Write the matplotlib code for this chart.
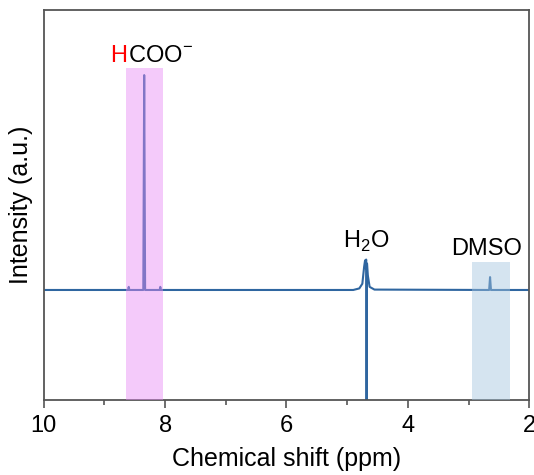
import matplotlib.pyplot as plt
from matplotlib.patches import Rectangle

plt.rcParams['font.family'] = 'Liberation Sans'
plt.rcParams['mathtext.fontset'] = 'custom'
plt.rcParams['mathtext.rm'] = 'Liberation Sans'

# spectrum (ppm, relative intensity)
ppm = [10.0, 8.61, 8.60, 8.59, 8.36, 8.345, 8.33, 8.09, 8.08, 8.07,
       4.90, 4.80, 4.75, 4.72, 4.705, 4.695, 4.687, 4.68, 4.673, 4.66,
       4.63, 4.55, 2.66, 2.645, 2.63, 2.0]
intensity = [0.282, 0.282, 0.29, 0.282, 0.282, 0.833, 0.282, 0.282, 0.29, 0.282,
             0.282, 0.286, 0.298, 0.342, 0.358, 0.338, 0.36, -0.2, 0.35, 0.32,
             0.29, 0.283, 0.282, 0.315, 0.282, 0.282]

# highlighted regions: (ppm start, ppm end, height, colour)
bands = [(8.03, 8.65, 0.851, '#e88af5'), (2.32, 2.94, 0.354, '#a3c4df')]

fig = plt.figure(figsize=(5.34, 4.75), dpi=100)
ax = fig.add_axes([0.082, 0.158, 0.909, 0.821])

ax.plot(ppm, intensity, color='#2f66a0', lw=1.5, zorder=2)

# translucent bands on top of the trace
for x0, x1, h, c in bands:
    ax.add_patch(Rectangle((x0, 0), x1 - x0, h, color=c, alpha=0.45, lw=0, zorder=3))

ax.text(8.62, 0.867, 'H', color='red', fontsize=17, ha='right', va='baseline')
ax.text(8.62, 0.867, 'COO$^{-}$', color='black', fontsize=17, ha='left', va='baseline')
ax.text(4.68, 0.39, 'H$_2$O', fontsize=17, ha='center', va='baseline')
ax.text(2.71, 0.372, 'DMSO', fontsize=17, ha='center', va='baseline')

ax.set_xlim(10, 2)
ax.set_ylim(0, 1)
ax.set_xticks([10, 8, 6, 4, 2])
ax.set_xticks([9, 7, 5, 3], minor=True)
ax.set_yticks([])
ax.tick_params(axis='x', which='major', length=6, width=1.2, color='#555555', labelsize=17, pad=5)
ax.tick_params(axis='x', which='minor', length=3.5, width=1.2, color='#555555')
for s in ax.spines.values():
    s.set_color('#555555')
    s.set_linewidth(1.3)

ax.set_xlabel('Chemical shift (ppm)', fontsize=18, labelpad=7)
ax.set_ylabel('Intensity (a.u.)', fontsize=18, labelpad=8)

fig.savefig('out.png', dpi=100)
